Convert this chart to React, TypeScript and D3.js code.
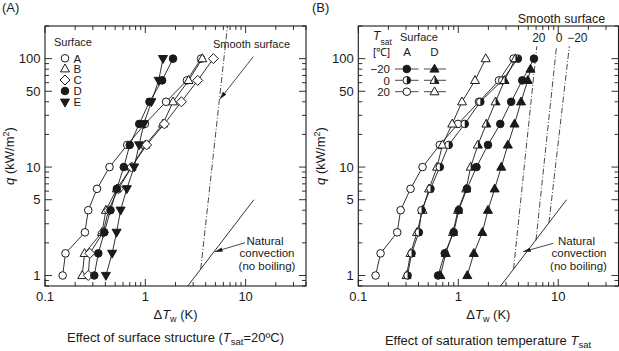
import React from 'react';
import * as d3 from 'd3';

const FONT = "'Liberation Sans', Arial, Helvetica, sans-serif";
const INK = '#1a1a1a';

// heat flux steps used for every run (kW/m2)
const qSteps = [1, 1.6, 2.5, 4, 6.3, 10, 16, 25, 40, 63, 100];
const qStepsD20 = [1, 1.6, 2.5, 4, 6.3, 10, 16, 25, 40, 63, 80];

// (A) surface structure, Tsat = 20C  -> wall superheat (K)
const surfA = [0.15, 0.16, 0.25, 0.27, 0.33, 0.44, 0.66, 0.99, 1.61, 2.6, 3.6];
const surfB = [0.235, 0.248, 0.37, 0.405, 0.52, 0.73, 1.0, 1.5, 1.89, 2.7, 3.7];
const surfC = [0.27, 0.28, 0.38, 0.43, 0.54, 0.73, 1.03, 1.55, 2.29, 3.33, 4.77];
const surfD = [0.31, 0.34, 0.39, 0.45, 0.52, 0.61, 0.7, 0.87, 1.1, 1.47, 1.89];
const surfE = [0.405, 0.467, 0.517, 0.567, 0.654, 0.774, 0.867, 0.966, 1.15, 1.36, 1.5];

// (B) saturation temperature, surfaces A and D
const tsatA20 = [0.149, 0.167, 0.245, 0.265, 0.333, 0.439, 0.653, 0.993, 1.61, 2.55, 3.57];
const tsatA0 = [0.311, 0.341, 0.403, 0.429, 0.527, 0.653, 0.802, 1.16, 1.66, 2.75, 3.94];
const tsatAm20 = [0.628, 0.732, 0.9, 1.01, 1.22, 1.52, 1.98, 2.63, 3.38, 4.36, 5.71];
const tsatD20 = [0.304, 0.333, 0.387, 0.439, 0.51, 0.613, 0.694, 0.869, 1.09, 1.47, 1.88];
const tsatD0 = [0.663, 0.749, 0.885, 0.993, 1.2, 1.33, 1.57, 1.91, 2.36, 2.9, 3.73];
const tsatDm20 = [1.23, 1.43, 1.74, 1.98, 2.31, 2.69, 3.13, 3.65, 4.24, 4.95, 5.27];

// reference lines [dT, q]
const naturalConv = [[2.65, 0.8], [12.1, 5.0]];
const smoothLeft = [[3.57, 1.15], [6.6, 200]];
const smoothRight = [
  { label: '20', pts: [[3.57, 1.15], [6.1, 130]], dx: 2 },
  { label: '0', pts: [[5.98, 2.11], [9.6, 130]], dx: 2.5 },
  { label: '\u221220', pts: [[8.06, 3.06], [12.9, 130]], dx: 8 },
];

const xTickLabels = [0.1, 1, 10];
const yTickLabels = [1, 5, 10, 50, 100];

const structureSeries = [
  { key: 'A', shape: 'circle', fill: 'open', q: qSteps, dt: surfA },
  { key: 'B', shape: 'tri', fill: 'open', q: qSteps, dt: surfB },
  { key: 'C', shape: 'diamond', fill: 'open', q: qSteps, dt: surfC },
  { key: 'D', shape: 'circle', fill: 'full', q: qSteps, dt: surfD },
  { key: 'E', shape: 'triDown', fill: 'full', q: qSteps, dt: surfE },
];

const tsatSeries = [
  { key: 'A20', shape: 'circle', fill: 'open', q: qSteps, dt: tsatA20 },
  { key: 'D20', shape: 'tri', fill: 'open', q: qSteps, dt: tsatD20 },
  { key: 'A0', shape: 'circle', fill: 'half', q: qSteps, dt: tsatA0 },
  { key: 'D0', shape: 'tri', fill: 'half', q: qSteps, dt: tsatD0 },
  { key: 'Am20', shape: 'circle', fill: 'full', q: qSteps, dt: tsatAm20 },
  { key: 'Dm20', shape: 'tri', fill: 'full', q: qStepsD20, dt: tsatDm20 },
];

const shapePath = (shape: string) => {
  if (shape === 'tri') return 'M0,-4.8L4.5,3.1L-4.5,3.1Z';
  if (shape === 'triDown') return 'M0,4.8L4.5,-3.1L-4.5,-3.1Z';
  if (shape === 'diamond') return 'M0,-5L5,0L0,5L-5,0Z';
  return 'M3.8,0A3.8,3.8 0 1,1 -3.8,0A3.8,3.8 0 1,1 3.8,0Z';
};
const halfPath = (shape: string) => {
  if (shape === 'tri') return 'M0,-4.8L4.5,3.1L0,3.1Z';
  return 'M0,-3.8A3.8,3.8 0 0,1 0,3.8Z';
};

function Marker({ shape, fill, x, y }: any) {
  const d = shapePath(shape);
  return (
    <g transform={`translate(${x},${y})`}>
      <path d={d} fill={fill === 'full' ? INK : '#fff'} stroke={INK} strokeWidth={1} />
      {fill === 'half' && <path d={halfPath(shape)} fill={INK} />}
    </g>
  );
}

function Panel({ left, right, series, yTitleX }: any) {
  const x = d3.scaleLog().domain([0.1, 40]).range([left, right]);
  const y = d3.scaleLog().domain([0.8, 200]).range([286, 26]);
  const line = d3.line<number[]>().x((d) => x(d[0])).y((d) => y(d[1]));
  const xt = x.ticks();
  const yt = y.ticks();
  const isMajor = (v: number) => Math.abs(Math.log10(v) - Math.round(Math.log10(v))) < 1e-6;
  const yLong = (v: number) => yTickLabels.some((l) => Math.abs(l - v) < 1e-6);
  const cx = (left + right) / 2;
  return (
    <g>
      <rect x={left} y={26} width={right - left} height={260} fill="none" stroke={INK} strokeWidth={1.1} />
      {xt.map((v, i) => {
        const L = isMajor(v) ? 7 : 4;
        return (
          <g key={'x' + i}>
            <line x1={x(v)} x2={x(v)} y1={286} y2={286 - L} stroke={INK} strokeWidth={0.9} />
            <line x1={x(v)} x2={x(v)} y1={26} y2={26 + L} stroke={INK} strokeWidth={0.9} />
          </g>
        );
      })}
      {yt.map((v, i) => {
        const L = yLong(v) ? 7 : 4;
        return (
          <g key={'y' + i}>
            <line x1={left} x2={left + L} y1={y(v)} y2={y(v)} stroke={INK} strokeWidth={0.9} />
            <line x1={right} x2={right - L} y1={y(v)} y2={y(v)} stroke={INK} strokeWidth={0.9} />
          </g>
        );
      })}
      {xTickLabels.map((v) => (
        <text key={'xl' + v} x={x(v)} y={300.5} textAnchor="middle" fontSize={13}>{v}</text>
      ))}
      {yTickLabels.map((v) => (
        <text key={'yl' + v} x={left - 4.5} y={y(v) + 4.6} textAnchor="end" fontSize={13}>{v}</text>
      ))}
      <text x={cx} y={319} textAnchor="middle" fontSize={13}>
        {'\u0394'}<tspan fontStyle="italic">T</tspan>
        <tspan fontSize={9} dy={3}>w</tspan>
        <tspan dy={-3}> (K)</tspan>
      </text>
      <text transform={`translate(${yTitleX},156) rotate(-90)`} textAnchor="middle" fontSize={13}>
        <tspan fontStyle="italic">q</tspan> (kW/m<tspan fontSize={9} dy={-5}>2</tspan>
        <tspan dy={5}>)</tspan>
      </text>
      <path d={line(naturalConv as any) || ''} fill="none" stroke={INK} strokeWidth={0.9} />
      {series.map((s: any) => {
        const pts = s.dt.map((d: number, i: number) => [d, s.q[i]]);
        return (
          <g key={s.key}>
            <path d={line(pts) || ''} fill="none" stroke={INK} strokeWidth={0.9} />
            {pts.map((p: number[], i: number) => (
              <Marker key={i} shape={s.shape} fill={s.fill} x={x(p[0])} y={y(p[1])} />
            ))}
          </g>
        );
      })}
    </g>
  );
}

export default function App() {
  const xL = d3.scaleLog().domain([0.1, 40]).range([45, 306]);
  const xR = d3.scaleLog().domain([0.1, 40]).range([358.3, 618.5]);
  const y = d3.scaleLog().domain([0.8, 200]).range([286, 26]);
  const line = (xs: any) => d3.line<number[]>().x((d) => xs(d[0])).y((d) => y(d[1]));
  const dashDot = '6,2,1,2';
  const legL = [58.3, 68.8, 80, 91, 102.2];
  const legR = [
    { lab: '\u221220', fill: 'full', y: 69 },
    { lab: '0', fill: 'half', y: 80.3 },
    { lab: '20', fill: 'open', y: 91.7 },
  ];
  return (
    <svg width={619} height={351} style={{ display: 'block', position: 'absolute', left: 0, top: 0 }}
      fontFamily={FONT} fill={INK}>
      <defs>
        <marker id="arr" viewBox="0 0 10 6" refX={10} refY={3} markerWidth={8} markerHeight={4.5}
          markerUnits="userSpaceOnUse" orient="auto">
          <path d="M0,0L10,3L0,6Z" fill={INK} />
        </marker>
      </defs>
      <rect width={619} height={351} fill="#fff" />
      <text x={2} y={12} fontSize={13}>(A)</text>
      <text x={312} y={12} fontSize={13}>(B)</text>

      {/* panel A */}
      <path d={line(xL)(smoothLeft as any) || ''} fill="none" stroke={INK} strokeWidth={0.8} strokeDasharray={dashDot} />
      <Panel left={45} right={306} series={structureSeries} yTitleX={14} />
      <text x={54} y={45.5} fontSize={11}>Surface</text>
      {structureSeries.map((s, i) => (
        <g key={s.key}>
          <Marker shape={s.shape} fill={s.fill} x={65} y={legL[i]} />
          <text x={73.5} y={legL[i] + 4.2} fontSize={11.5}>{s.key}</text>
        </g>
      ))}
      <text x={213} y={48.3} fontSize={11}>Smooth surface</text>
      <line x1={253.3} y1={56.7} x2={220} y2={99} stroke={INK} strokeWidth={0.8} markerEnd="url(#arr)" />
      <g fontSize={11.5} textAnchor="middle">
        <text x={265} y={244.8}>Natural</text>
        <text x={267} y={257.2}>convection</text>
        <text x={267} y={269.6}>(no boiling)</text>
      </g>
      <line x1={245} y1={242.7} x2={215} y2={251.7} stroke={INK} strokeWidth={0.8} markerEnd="url(#arr)" />
      <text x={175.5} y={342} textAnchor="middle" fontSize={13}>
        Effect of surface structure (<tspan fontStyle="italic">T</tspan>
        <tspan fontSize={9.5} dy={3}>sat</tspan><tspan dy={-3}>=20ºC)</tspan>
      </text>

      {/* panel B */}
      {smoothRight.map((s) => (
        <g key={s.label}>
          <path d={line(xR)(s.pts as any) || ''} fill="none" stroke={INK} strokeWidth={0.8} strokeDasharray={dashDot} />
          <text x={xR(s.pts[1][0]) + s.dx} y={42} textAnchor="middle" fontSize={12}>{s.label}</text>
        </g>
      ))}
      <Panel left={358.3} right={618.5} series={tsatSeries} yTitleX={325} />
      <text x={561.5} y={23} textAnchor="middle" fontSize={12.5}>Smooth surface</text>
      <text x={373} y={40} fontSize={12} fontStyle="italic">T</text>
      <text x={380.5} y={44.5} fontSize={8.5}>sat</text>
      <text x={373} y={55.5} fontSize={11}>[℃]</text>
      <text x={400} y={40.5} fontSize={11}>Surface</text>
      <text x={407} y={55.5} fontSize={11.5} textAnchor="middle">A</text>
      <text x={434.5} y={55.5} fontSize={11.5} textAnchor="middle">D</text>
      {legR.map((r) => (
        <g key={r.lab}>
          <text x={390} y={r.y + 4.2} textAnchor="end" fontSize={11.5}>{r.lab}</text>
          <line x1={395} x2={418.5} y1={r.y} y2={r.y} stroke={INK} strokeWidth={0.8} />
          <line x1={424} x2={446} y1={r.y} y2={r.y} stroke={INK} strokeWidth={0.8} />
          <Marker shape="circle" fill={r.fill} x={406.8} y={r.y} />
          <Marker shape="tri" fill={r.fill} x={434.5} y={r.y} />
        </g>
      ))}
      <g fontSize={11.5} textAnchor="middle">
        <text x={576.5} y={244.8}>Natural</text>
        <text x={579} y={257.2}>convection</text>
        <text x={578.5} y={269.6}>(no boiling)</text>
      </g>
      <line x1={553.3} y1={243.3} x2={523.3} y2={251.7} stroke={INK} strokeWidth={0.8} markerEnd="url(#arr)" />
      <text x={488} y={345} textAnchor="middle" fontSize={13}>
        Effect of saturation temperature <tspan fontStyle="italic">T</tspan>
        <tspan fontSize={9.5} dy={3}>sat</tspan>
      </text>
    </svg>
  );
}
